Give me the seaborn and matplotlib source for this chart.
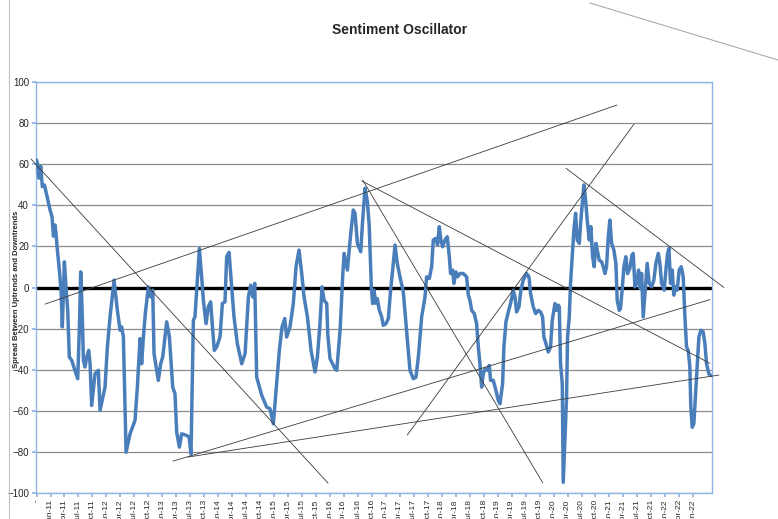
import matplotlib
matplotlib.use("Agg")
import matplotlib.pyplot as plt
from matplotlib.lines import Line2D
import pandas as pd
import seaborn as sns

# week index (weekly series, 13 weeks per axis label) and spread value
weeks = [
    0, 0.8, 2.3, 3.9, 5.4, 7.3, 9.5, 12.6, 14.4, 15.7,
    17.2, 18.1, 19.4, 21.2, 22.8, 24.0, 25.9, 27.4, 29.0, 30.5,
    32.7, 35.2, 38.3, 39.8, 41.1, 42.6, 43.6, 45.1, 46.7, 48.5,
    49.8, 51.3, 54.4, 57.5, 59.1, 63.7, 65.9, 68.4, 72.1, 75.2,
    77.7, 79.2, 80.8, 83.3, 87.0, 91.6, 93.8, 96.3, 97.8, 99.4,
    101.2, 104.0, 106.2, 108.1, 109.3, 113.3, 115.5, 117.4, 121.1, 123.6,
    126.7, 128.8, 130.4, 132.9, 135.0, 139.7, 141.9, 143.7, 145.9, 147.4,
    149.0, 151.5, 153.6, 155.2, 157.7, 159.8, 162.0, 163.9, 165.4, 167.6,
    170.7, 172.9, 175.3, 176.9, 179.1, 181.6, 183.7, 186.8, 190.9, 194.0,
    197.1, 199.2, 201.1, 203.0, 204.8, 209.5, 214.1, 217.2, 220.3, 222.8,
    225.9, 228.4, 230.9, 232.7, 235.8, 238.9, 241.4, 244.2, 246.7, 248.9,
    252.0, 255.4, 259.1, 261.3, 263.7, 265.6, 267.5, 270.0, 270.9, 273.0,
    277.7, 279.3, 282.4, 284.8, 286.1, 289.2, 292.3, 294.7, 296.3, 298.5,
    301.6, 303.4, 305.6, 307.8, 309.5, 311.5,
    312.7, 313.9, 315.8, 317.0, 318.9, 321.1, 322.6, 325.1, 327.3, 329.4,
    331.9, 333.5, 335.6, 338.1, 341.2, 343.7, 345.9, 347.4, 350.5, 353.0,
    355.2, 358.3, 361.4, 362.9, 365.4, 367.6, 369.1, 371.3, 373.1, 374.7,
    376.2, 377.8, 380.0, 382.1, 384.0, 385.2, 387.1, 388.3, 390.2, 391.7,
    393.9, 397.0, 400.1, 401.7, 403.2, 404.8, 407.2, 409.4, 411.0, 412.5,
    414.1, 415.6, 417.2, 419.3, 421.2, 422.4, 424.9, 427.4, 429.6, 431.1,
    433.6, 434.8, 436.7, 438.9, 441.0, 443.5, 445.1, 446.6, 448.8, 450.6,
    452.8, 455.9, 458.1, 459.6, 462.1, 464.3, 466.8, 468.9, 470.8, 472.0,
    473.9, 476.1, 478.2, 479.8, 482.3, 483.8, 485.4, 486.3, 487.5, 489.1,
    490.0, 491.9, 493.1, 494.0, 495.6, 496.8, 498.7, 499.9, 501.5, 503.0,
    504.9, 506.4, 508.0, 509.2, 510.8, 512.3, 514.2, 515.7, 517.3, 518.8,
    520.4, 521.6, 523.5, 525.7, 527.2, 528.8, 530.3, 531.9, 533.4, 535.0,
    537.1, 539.0, 540.2, 542.1, 543.3, 544.9, 546.4, 548.3, 549.8, 552.0,
    553.9, 555.1, 556.7, 558.2, 560.1, 561.6, 562.9, 564.4, 566.3, 568.1,
    570.0, 572.2, 574.3, 576.2, 578.4, 579.9, 581.5, 583.0, 583.9, 585.5,
    587.1, 588.3, 589.8, 591.4, 592.9, 594.5, 596.0, 597.9, 599.8, 601.6,
    603.2, 604.7, 606.3, 607.8, 608.7, 610.0, 611.5, 613.1, 614.6, 616.2,
    618.0, 620.2, 621.8, 623.3, 625.5, 627.1,
]
spread = [
    62, 60.5, 53.2, 59.0, 49.1, 49.9, 45.0, 37.7, 34.5, 25.0,
    30.4, 26.3, 18.2, 8.5, -1.3, -19.2, 12.5, 0.3, -11.0, -33.8,
    -35.4, -39.5, -44.4, -20.8, 7.6, -14.3, -35.4, -38.7, -33.8, -30.6,
    -37.1, -57.4, -42.0, -40.3, -59.8, -48.5, -28.9, -14.3, 3.6, -11.1,
    -20.8, -19.2, -24.1, -80.2, -71.2, -64.7, -48.5, -24.9, -37.1, -24.1,
    -12.7, 0.3, -4.6, -1.3, -32.2, -45.2, -37.1, -33.8, -16.7, -24.1,
    -48.5, -51.7, -70.4, -77.7, -71.2, -72.0, -72.8, -81.0, -15.9, -14.3,
    -1.3, 19.0, 5.2, -6.2, -17.6, -9.4, -7.0, -20.8, -30.6, -28.9,
    -24.1, -7.8, -7.0, 15.0, 17.1, 0.3, -14.3, -27.3, -37.1, -32.2,
    -4.6, 1.1, -4.6, 2.0, -43.6, -52.5, -58.2, -59.0, -66.3, -50.1,
    -30.6, -19.2, -15.1, -24.1, -19.2, -7.8, 10.1, 18.2, 6.8, -4.6,
    -14.3, -30.6, -41.1, -33.8, -17.6, 0.3, -6.2, -7.8, -22.4, -34.6,
    -39.5, -40.3, -20.8, 5.2, 16.6, 8.5, 26.3, 37.7, 36.1, 21.5,
    17.4, 32.8, 48.3, 41.8, 30.0, 0.0,
    -7.8, -1.3, -7.8, -5.4, -11.1, -14.3, -18.4, -17.6, -15.1, -1.3,
    11.7, 20.7, 11.7, 5.2, -2.1, -17.6, -30.6, -40.3, -44.4, -43.6,
    -33.8, -14.3, -4.6, 5.2, 4.4, 10.1, 23.1, 23.9, 20.7, 29.6,
    23.1, 19.8, 23.1, 24.7, 15.0, 6.8, 8.5, 2.0, 7.6, 5.2,
    6.8, 6.8, 5.2, -3.7, -6.2, -11.1, -12.7, -17.6, -28.9, -37.1,
    -48.5, -42.0, -39.5, -40.3, -37.9, -45.2, -45.2, -50.1, -55.0, -56.6,
    -46.8, -28.9, -16.7, -11.9, -7.8, -1.3, -4.6, -11.9, -9.4, -1.3,
    3.6, 6.8, 5.2, -2.9, -9.4, -12.7, -11.1, -11.9, -14.3, -24.1,
    -27.3, -31.4, -28.9, -15.9, -7.8, -11.1, -8.6, -9.4, -37.1, -46.8,
    -94.8, -69.6, -53.3, -24.1, -14.3, 2.0, 18.2, 28.0, 36.1, 23.1,
    21.5, 32.8, 42.6, 49.9, 42.6, 32.8, 23.1, 29.6, 15.0, 10.1,
    21.5, 18.2, 13.3, 12.5, 10.1, 6.8, 10.1, 24.7, 32.8, 21.5,
    18.2, 11.7, -6.2, -11.1, -10.2, -0.5, 10.1, 15.0, 6.8, 9.3,
    15.8, 16.6, 0.3, 2.0, 8.5, -0.5, 6.8, -14.3, -1.3, 11.7,
    2.0, 0.3, 3.6, 11.7, 16.6, 11.7, 2.0, 0.3, -1.3, 8.5,
    16.6, 19.0, 2.0, 8.5, -3.7, 0.3, -1.3, 8.5, 10.1, 5.2,
    -14.3, -28.9, -30.6, -38.7, -58.2, -68.0, -66.3, -51.7, -37.1, -24.1,
    -20.8, -21.6, -27.3, -37.1, -42.0, -42.8,
]

tick_labels = [
    "-", "Jan-11", "Apr-11", "Jul-11", "Oct-11", "Jan-12", "Apr-12", "Jul-12", "Oct-12",
    "Jan-13", "Apr-13", "Jul-13", "Oct-13", "Jan-14", "Apr-14", "Jul-14", "Oct-14",
    "Jan-15", "Apr-15", "Jul-15", "Oct-15", "Jan-16", "Apr-16", "Jul-16", "Oct-16",
    "Jan-17", "Apr-17", "Jul-17", "Oct-17", "Jan-18", "Apr-18", "Jul-18", "Oct-18",
    "Jan-19", "Apr-19", "Jul-19", "Oct-19", "Jan-20", "Apr-20", "Jul-20", "Oct-20",
    "Jan-21", "Apr-21", "Jul-21", "Oct-21", "Jan-22", "Apr-22", "Jun-22",
]
WEEKS_PER_LABEL = 13

# hand-drawn trend lines (start week, start value) -> (end week, end value)
trend_x0 = [-5.1, 7.9, 303.4, 302.8, 344.9, 492.6, 127.0, 140.9]
trend_y0 = [62.5, -8.1, 52.3, 51.8, -71.8, 58.0, -84.5, -82.5]
trend_x1 = [271.2, 540.0, 470.9, 626.5, 555.8, 639.5, 626.5, 634.9]
trend_y1 = [-95.2, 88.8, -95.0, -36.9, 79.5, 0.0, -5.9, -42.6]

assert len(weeks) == len(spread)
df = pd.DataFrame({"week": weeks, "spread": spread})

sns.set_theme(style="white")
plt.rcParams['font.family'] = ['Liberation Sans', 'DejaVu Sans']

fig = plt.figure(figsize=(7.78, 5.19), dpi=100)
ax = fig.add_axes([36 / 778, 1 - 493 / 519, 676 / 778, 411 / 519])

ax.set_yticks(range(-100, 101, 20))
ax.grid(axis='y', color='#8c8c8c', lw=0.9)
ax.axhline(0, color='black', lw=2.4, zorder=2)

sns.lineplot(data=df, x='week', y='spread', estimator=None, sort=False,
             color='#4a7ebb', lw=2.5, ax=ax, zorder=3)

for x0, y0, x1, y1 in zip(trend_x0, trend_y0, trend_x1, trend_y1):
    ax.plot([x0, x1], [y0, y1], color='#3a3a3a', lw=0.6, clip_on=False, zorder=4)

ax.set_xlim(-0.5, 628.4)
ax.set_ylim(-100, 100)
ax.set_xticks([i * WEEKS_PER_LABEL for i in range(len(tick_labels))])
ax.set_xticklabels(tick_labels, rotation=90, fontsize=6, va='top', ha='center')
ax.tick_params(axis='y', labelsize=7, pad=2, length=3, left=True, color='#8eb4e3')
ax.tick_params(axis='x', pad=1.5, length=3, bottom=True, color='#8eb4e3')
ax.set_xlabel('')
ax.set_ylabel('')
for sp in ax.spines.values():
    sp.set_color('#8eb4e3')
    sp.set_linewidth(1)

fig.text(400 / 778, 1 - 30 / 519, "Sentiment Oscillator", fontsize=10,
         weight='bold', ha='center', va='center')
fig.text(17 / 778, 1 - 289 / 519, "Spread Between Uptrends and Downtrends",
         rotation=90, fontsize=5.5, weight='bold', ha='center', va='center')

# outer chart frame remnants
fig.add_artist(Line2D([9 / 778, 9 / 778], [0, 1], color='#c0c0c0', lw=0.8))
fig.add_artist(Line2D([590 / 778, 1], [1 - 3 / 519, 1 - 60 / 519], color='#a0a0a0', lw=0.7))

fig.savefig("out.png", dpi=100)
plt.close(fig)
